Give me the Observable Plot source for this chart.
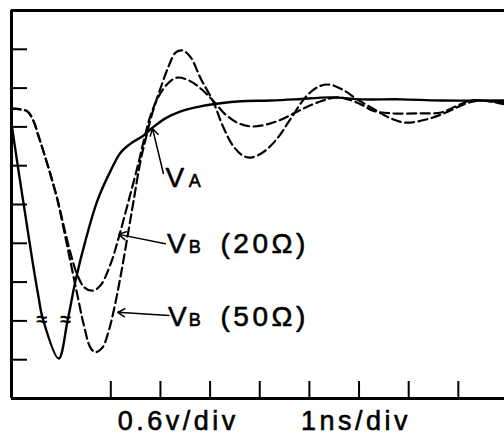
<!DOCTYPE html>
<html><head><meta charset="utf-8">
<script src="https://cdn.jsdelivr.net/npm/d3@7"></script>
<script src="https://cdn.jsdelivr.net/npm/@observablehq/plot@0.6"></script>
<style>
html,body{margin:0;padding:0;background:#fff;}
#chart svg text{letter-spacing:3.5px;}
</style></head><body><div id="chart"></div>
<script>
// time in ns (1 ns/div), voltage in screen divisions (0.6 V/div)
const vaT = [0,0.14,0.28,0.42,0.54,0.63,0.95,1.13,1.29,1.49,1.73,2.00,2.20,2.40,2.66,2.84,3.10,3.41,3.81,4.21,4.62,5.22,5.73,6.43,7.04,7.84,8.65,9.94];
const vaV = [7.09,5.88,4.72,3.56,2.65,2.06,1.03,2.01,3.04,4.07,5.10,5.88,6.34,6.57,6.78,6.98,7.22,7.40,7.53,7.61,7.66,7.68,7.71,7.76,7.71,7.71,7.68,7.68];

const vb20T = [0,0.18,0.32,0.44,0.54,0.65,0.79,0.93,1.05,1.19,1.33,1.47,1.63,1.79,2.00,2.16,2.36,2.56,2.68,2.80,2.96,3.15,3.33,3.57,3.81,4.07,4.31,4.58,4.86,5.22,5.52,5.87,6.23,6.53,6.73,7.04,7.28,7.64,8.25,8.65,8.95,9.25,9.66,9.94];
const vb20V = [7.47,7.45,7.40,7.16,6.78,6.34,5.75,5.10,4.46,3.74,3.17,2.86,2.78,2.91,3.48,4.15,5.10,6.08,6.73,7.29,7.78,8.12,8.27,8.20,7.99,7.66,7.32,7.09,7.01,7.09,7.24,7.47,7.66,7.76,7.73,7.58,7.42,7.35,7.35,7.37,7.53,7.68,7.66,7.63];

const vb50T = [0,0.18,0.32,0.44,0.54,0.65,0.79,0.93,1.05,1.19,1.33,1.45,1.59,1.69,1.83,1.96,2.06,2.20,2.34,2.46,2.60,2.72,2.84,3.00,3.17,3.31,3.45,3.61,3.81,4.07,4.25,4.46,4.66,4.82,5.06,5.32,5.63,5.93,6.19,6.41,6.67,6.94,7.24,7.64,7.94,8.35,8.75,9.15,9.46,9.94];
const vb50V = [7.47,7.45,7.40,7.16,6.78,6.34,5.75,5.10,4.38,3.51,2.65,1.93,1.31,1.19,1.31,1.75,2.27,3.17,4.20,5.10,6.13,6.78,7.37,7.99,8.58,8.92,8.97,8.79,8.25,7.63,7.04,6.52,6.26,6.21,6.34,6.65,7.22,7.78,8.04,8.09,7.96,7.73,7.50,7.22,7.11,7.19,7.37,7.60,7.68,7.58];

// tick positions (divisions)
const xTicks = [2,3,4,5,6,7,8,9];
const yTicks = [1,2,3,4,5,6,7,8,9];

// trace break marks on V_A
const breakT = [0.65,1.13];
const breakV = [2.04,2.04];

// curve labels
const labelMain = ["V","V","V"];
const labelSub = ["A","B","B"];
const labelRest = ["","(20Ω)","(50Ω)"];
const labelT = [3.10,3.13,3.15];
const labelSubT = [3.57,3.57,3.57];
const labelRestT = [4.21,4.21,4.21];
const labelV = [5.46,3.74,1.86];

// pointer arrows (from label to curve)
const arrowFromT = [3.06,3.10,3.17];
const arrowFromV = [5.80,3.99,2.14];
const arrowToT = [2.84,2.16,2.14];
const arrowToV = [6.96,4.23,2.22];

// scale notes under the axis
const scaleNotes = ["0.6v/div","1ns/div"];
const scaleNoteT = [2.14,5.83];

const zip = (T, V) => T.map((t, i) => ({t, v: V[i]}));
const va = zip(vaT, vaV), vb20 = zip(vb20T, vb20V), vb50 = zip(vb50T, vb50V);
const breaks = zip(breakT, breakV);
const labels = labelMain.map((m, i) => ({m, s: labelSub[i], r: labelRest[i], t: labelT[i], ts: labelSubT[i], tr: labelRestT[i], v: labelV[i]}));
const arrows = arrowFromT.map((t, i) => ({x1: t, y1: arrowFromV[i], x2: arrowToT[i], y2: arrowToV[i]}));
const notes = scaleNotes.map((n, i) => ({n, t: scaleNoteT[i]}));

const txt = {stroke: "#000", strokeWidth: 0.6, fill: "#000", textAnchor: "start", lineAnchor: "bottom"};

const plot = Plot.plot({
  width: 504, height: 433,
  marginLeft: 11, marginRight: 0, marginTop: 10, marginBottom: 35,
  x: {domain: [0, 9.93], axis: null},
  y: {domain: [0, 10], axis: null},
  style: {fontFamily: '"Liberation Sans", Arial, sans-serif', background: "#fff", color: "#000", overflow: "visible"},
  marks: [
    Plot.axisX({ticks: xTicks, tickSize: -17, tickFormat: () => "", strokeWidth: 2, label: null}),
    Plot.axisY({ticks: yTicks, tickSize: -16, tickFormat: () => "", strokeWidth: 2, label: null}),
    Plot.ruleY([0, 10], {strokeWidth: 3}),
    Plot.ruleX([0], {strokeWidth: 3}),
    Plot.line(vb50, {x: "t", y: "v", stroke: "#000", strokeWidth: 2.2, strokeDasharray: "9,4.5", curve: "catmull-rom"}),
    Plot.line(vb20, {x: "t", y: "v", stroke: "#000", strokeWidth: 2.2, strokeDasharray: "9,4.5", curve: "catmull-rom"}),
    Plot.line(va, {x: "t", y: "v", stroke: "#000", strokeWidth: 2.4, curve: "catmull-rom"}),
    Plot.text(breaks, {x: "t", y: "v", text: () => "≈", fontSize: 20, fontWeight: "bold"}),
    Plot.arrow(arrows, {x1: "x1", y1: "y1", x2: "x2", y2: "y2", stroke: "#000", strokeWidth: 1.5, headLength: 8}),
    Plot.text(labels, {...txt, x: "t", y: "v", text: "m", fontSize: 28}),
    Plot.text(labels, {...txt, x: "ts", y: "v", text: "s", fontSize: 18}),
    Plot.text(labels, {...txt, x: "tr", y: "v", text: "r", fontSize: 28}),
    Plot.text(notes, {...txt, x: "t", text: "n", frameAnchor: "bottom", dy: 31, fontSize: 27})
  ]
});
document.getElementById("chart").appendChild(plot);
</script></body></html>
